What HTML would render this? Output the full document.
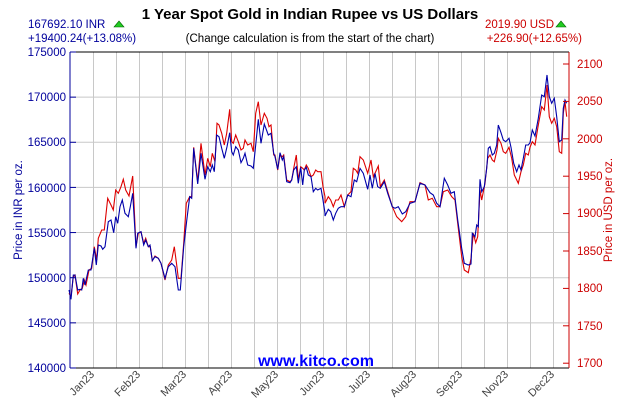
<!DOCTYPE html>
<html><head><meta charset="utf-8"><style>
body{margin:0;background:#fff;}
svg{display:block;font-family:"Liberation Sans",Arial,sans-serif;}
</style></head><body>
<svg id="s" width="630" height="400" viewBox="0 0 630 400">
<rect width="630" height="400" fill="#fff"/>
<g id="grid" stroke="#c8c8c8" stroke-width="1"></g>
<text x="310" y="19" font-size="15" font-weight="bold" text-anchor="middle" fill="#000">1 Year Spot Gold in Indian Rupee vs US Dollars</text>
<text x="28" y="28" font-size="11.5" fill="#00009c">167692.10 INR</text>
<polygon points="114,27 124,27 119,21" fill="#2c2" stroke="#060" stroke-width="0.6"/>
<text x="28" y="42" font-size="11.5" fill="#00009c">+19400.24(+13.08%)</text>
<text x="310" y="42" font-size="11.5" text-anchor="middle" fill="#000">(Change calculation is from the start of the chart)</text>
<text x="554" y="28" font-size="11.5" text-anchor="end" fill="#c00">2019.90 USD</text>
<polygon points="556,27 566,27 561,21" fill="#2c2" stroke="#060" stroke-width="0.6"/>
<text x="582" y="42" font-size="11.5" text-anchor="end" fill="#c00">+226.90(+12.65%)</text>
<g font-size="11.5" fill="#00009c" text-anchor="end">
<text x="66" y="56">175000</text><text x="66" y="101">170000</text><text x="66" y="146">165000</text><text x="66" y="192">160000</text><text x="66" y="237">155000</text><text x="66" y="282">150000</text><text x="66" y="327">145000</text><text x="66" y="372">140000</text>
</g>
<g font-size="11.5" fill="#c00">
<text x="577" y="68">2100</text><text x="577" y="105">2050</text><text x="577" y="143">2000</text><text x="577" y="180">1950</text><text x="577" y="217">1900</text><text x="577" y="255">1850</text><text x="577" y="292">1800</text><text x="577" y="330">1750</text><text x="577" y="367">1700</text>
</g>
<text transform="translate(22,210) rotate(-90)" font-size="11.5" fill="#00009c" text-anchor="middle">Price in INR per oz.</text>
<text transform="translate(612,210) rotate(-90)" font-size="11.5" fill="#c00" text-anchor="middle">Price in USD per oz.</text>
<text x="316" y="366" font-size="16" font-weight="bold" fill="#00f" text-anchor="middle">www.kitco.com</text>
<g font-size="11" fill="#444" text-anchor="end">
<text transform="translate(95,375) rotate(-45)">Jan23</text>
<text transform="translate(141,375) rotate(-45)">Feb23</text>
<text transform="translate(187,375) rotate(-45)">Mar23</text>
<text transform="translate(233,375) rotate(-45)">Apr23</text>
<text transform="translate(279,375) rotate(-45)">May23</text>
<text transform="translate(325,375) rotate(-45)">Jun23</text>
<text transform="translate(371,375) rotate(-45)">Jul23</text>
<text transform="translate(417,375) rotate(-45)">Aug23</text>
<text transform="translate(463,375) rotate(-45)">Sep23</text>
<text transform="translate(509,375) rotate(-45)">Nov23</text>
<text transform="translate(555,375) rotate(-45)">Dec23</text>
</g>
<polyline id="red" fill="none" stroke="#d00" stroke-width="1.1"/>
<polyline id="blue" fill="none" stroke="#00a" stroke-width="1.1"/>
<line x1="70" y1="52" x2="569" y2="52" stroke="#000"/>
<line x1="70" y1="368" x2="569" y2="368" stroke="#000"/>
<line x1="70" y1="52" x2="70" y2="368" stroke="#00009c"/>
<line x1="569" y1="52" x2="569" y2="368" stroke="#c00"/>
<g id="ticks"></g>
</svg>
<script>
var ns="http://www.w3.org/2000/svg";
function el(p,t,a){var e=document.createElementNS(ns,t);for(var k in a)e.setAttribute(k,a[k]);p.appendChild(e);}
var g=document.getElementById('grid');
for(var k=1;k<=21;k++){var x=70+23*k+0.5;el(g,'line',{x1:x,y1:52,x2:x,y2:368});}
for(var i=1;i<7;i++){var y=52+i*45.14;el(g,'line',{x1:70,y1:y,x2:569,y2:y});}
var t=document.getElementById('ticks');
for(var i=0;i<=7;i++){var y=52+i*45.14;el(t,'line',{x1:70,y1:y,x2:76,y2:y,stroke:'#00009c'});}
for(var i=0;i<=8;i++){var y=64+i*37.4;el(t,'line',{x1:563,y1:y,x2:569,y2:y,stroke:'#c00'});}
function conv(a3,a4){var o=[];a3.forEach(function(p){o.push((65+p[0]/3).toFixed(1)+','+(90+p[1]/3).toFixed(1));});
a4.forEach(function(p){o.push((315+p[0]/3).toFixed(1)+','+(60+p[1]/3).toFixed(1));});return o.join(' ');}
var b3=[[12,600],[18,628],[25,555],[30,555],[38,600],[45,598],[50,600],[55,565],[60,585],[70,540],[78,540],[88,475],[94,525],[100,465],[108,468],[113,478],[120,470],[130,395],[138,390],[146,428],[152,380],[158,400],[165,350],[172,330],[180,370],[190,380],[196,350],[203,310],[213,475],[218,430],[228,425],[236,465],[242,450],[250,470],[255,465],[262,512],[270,500],[280,505],[288,520],[300,565],[310,530],[320,520],[330,530],[340,600],[346,600],[356,470],[366,385],[374,320],[380,325],[386,175],[398,282],[408,190],[420,268],[428,230],[436,245],[442,225],[448,245],[455,135],[462,140],[470,175],[478,205],[486,170],[494,128],[500,185],[505,195],[512,170],[520,180],[528,218],[535,205],[540,190],[548,225],[558,228],[565,235],[572,165],[580,88],[588,160],[598,102],[610,135],[618,130],[626,190],[630,200],[638,238],[645,188],[652,210],[656,200],[665,275],[675,278],[680,270],[686,240],[694,230],[700,280],[707,232],[713,285],[718,240],[724,232],[730,255],[738,260],[745,305],[752,295],[758,300],[768,295],[774,330],[780,370]];
var b4=[[30,468],[40,448],[47,455],[55,480],[62,460],[70,445],[78,440],[88,440],[98,405],[108,410],[115,375],[118,360],[125,365],[135,325],[145,340],[158,388],[165,345],[172,385],[180,340],[188,380],[196,385],[208,365],[218,400],[232,440],[240,445],[250,440],[262,462],[272,455],[285,430],[300,425],[315,370],[330,375],[345,398],[355,405],[365,430],[375,440],[388,355],[398,375],[408,400],[418,395],[428,480],[440,565],[448,610],[460,615],[468,612],[472,520],[480,530],[485,495],[490,500],[495,358],[500,395],[508,380],[515,325],[520,265],[525,260],[532,285],[538,280],[545,255],[550,195],[558,218],[565,240],[572,245],[582,235],[588,262],[596,310],[605,335],[612,315],[618,330],[625,295],[632,255],[640,255],[645,248],[652,210],[660,228],[670,175],[680,105],[688,110],[696,45],[703,110],[710,130],[718,115],[725,170],[733,245],[740,240],[745,145],[750,120],[755,130]];
var r3=[[12,610],[18,620],[25,560],[30,555],[38,612],[45,600],[52,595],[58,570],[63,585],[72,540],[80,535],[88,470],[95,510],[100,445],[110,420],[118,420],[128,325],[138,345],[145,360],[152,300],[160,310],[168,290],[175,268],[182,300],[192,318],[203,258],[213,470],[220,430],[228,425],[236,460],[242,445],[250,470],[256,470],[262,512],[270,498],[280,505],[288,520],[300,570],[310,525],[320,510],[328,470],[335,525],[340,565],[348,565],[356,460],[364,340],[374,320],[380,320],[386,172],[398,275],[408,160],[420,255],[428,205],[436,230],[442,190],[450,215],[456,100],[462,105],[470,130],[478,165],[485,130],[494,58],[500,155],[505,160],[512,135],[520,155],[528,180],[535,175],[540,150],[548,165],[558,160],[565,185],[572,70],[580,35],[588,105],[598,70],[606,85],[612,110],[618,105],[626,195],[630,195],[638,240],[645,195],[652,200],[656,195],[665,270],[675,275],[680,270],[686,235],[694,195],[700,270],[707,230],[713,235],[718,240],[724,225],[730,235],[738,260],[745,255],[752,240],[758,245],[768,245],[774,290],[780,320]];
var r4=[[30,430],[40,410],[47,420],[55,440],[62,420],[70,420],[78,405],[88,440],[98,405],[108,395],[115,325],[122,330],[128,340],[135,290],[145,300],[158,340],[168,300],[175,350],[182,335],[190,318],[196,380],[208,360],[218,395],[232,440],[245,470],[260,485],[272,470],[285,425],[300,425],[315,368],[330,375],[340,420],[352,415],[365,440],[375,440],[385,395],[398,390],[410,410],[420,420],[428,490],[440,590],[448,630],[460,638],[468,595],[475,520],[482,548],[488,530],[495,390],[500,420],[510,370],[518,295],[525,285],[532,300],[538,305],[546,270],[550,235],[558,250],[565,275],[572,280],[582,262],[590,295],[598,345],[610,370],[618,335],[625,315],[632,280],[640,285],[645,262],[652,245],[660,255],[670,195],[680,140],[688,150],[696,75],[703,170],[710,190],[718,175],[725,200],[733,275],[740,280],[745,160],[750,125],[755,170]];
document.getElementById('blue').setAttribute('points',conv(b3,b4));
document.getElementById('red').setAttribute('points',conv(r3,r4));
</script>
</body></html>
